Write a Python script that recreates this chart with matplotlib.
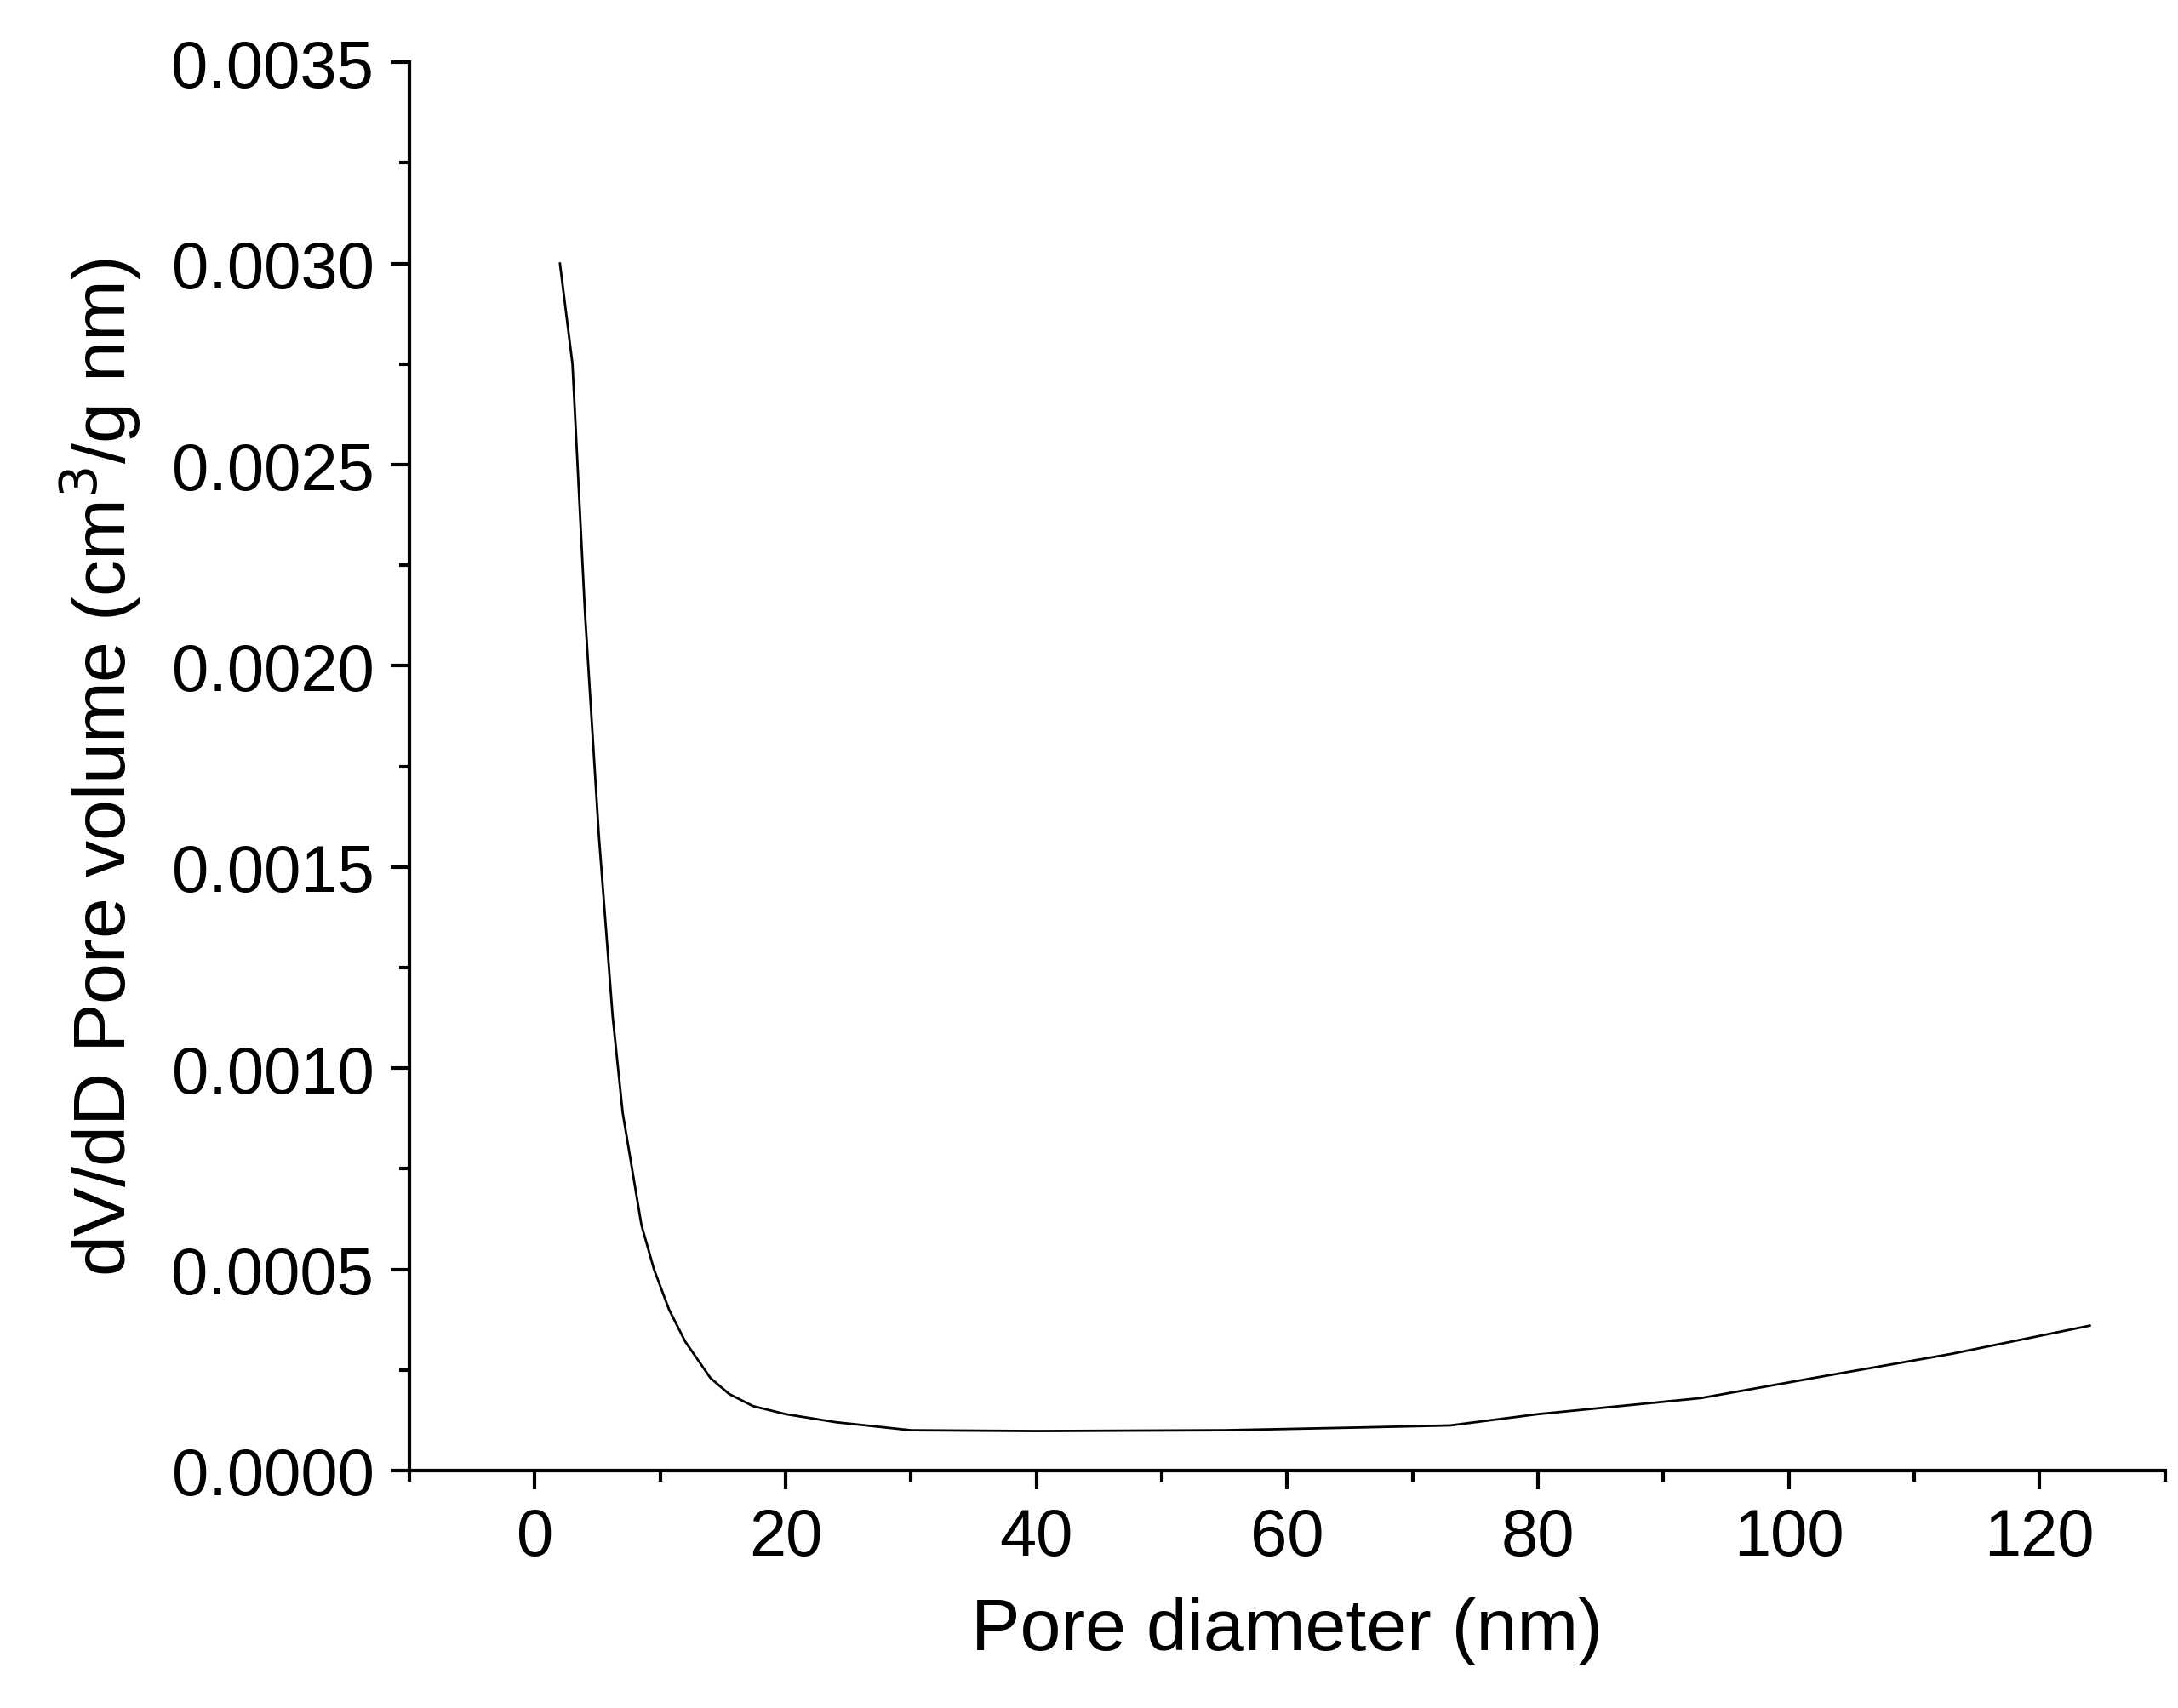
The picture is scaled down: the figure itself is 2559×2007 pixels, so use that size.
import matplotlib
matplotlib.use("Agg")
import matplotlib.pyplot as plt
from matplotlib.ticker import MultipleLocator, FormatStrFormatter

diameter = [2, 3, 4, 5.1, 6.2, 7, 8.5, 9.5, 10.7, 12, 14, 15.5, 17.4, 20, 24, 30, 40, 55, 66, 73, 80, 93, 102, 113, 124]
dvdd = [0.0030, 0.00275, 0.00213, 0.00158, 0.00113, 0.00089, 0.00061, 0.00050, 0.00040, 0.00032, 0.00023, 0.00019, 0.00016, 0.00014,
        0.00012, 0.000100, 0.000098, 0.000100, 0.000107, 0.000112, 0.00014, 0.00018, 0.00023, 0.00029, 0.00036]

plt.rcParams['font.family'] = ['Liberation Sans', 'DejaVu Sans']
fig = plt.figure(figsize=(25.59, 20.08), dpi=100)
ax = fig.add_axes([0.188, 0.139, 0.806, 0.824])
ax.plot(diameter, dvdd, color='black', lw=2)
ax.set_xlim(-10, 130)
ax.set_ylim(0, 0.0035)
ax.spines['top'].set_visible(False)
ax.spines['right'].set_visible(False)
for s in ('left', 'bottom'):
    ax.spines[s].set_linewidth(3)
ax.xaxis.set_major_locator(MultipleLocator(20))
ax.xaxis.set_minor_locator(MultipleLocator(10))
ax.yaxis.set_major_locator(MultipleLocator(0.0005))
ax.yaxis.set_minor_locator(MultipleLocator(0.00025))
ax.yaxis.set_major_formatter(FormatStrFormatter('%.4f'))
ax.tick_params(which='major', direction='out', length=16, width=3, labelsize=56, pad=14)
ax.tick_params(which='minor', direction='out', length=9, width=3)
ax.set_xlabel('Pore diameter (nm)', fontsize=62, labelpad=24)
ax.set_ylabel(r'dV/dD Pore volume (cm$^3$/g nm)', fontsize=62, labelpad=24)
fig.savefig('out.png', dpi=100)
